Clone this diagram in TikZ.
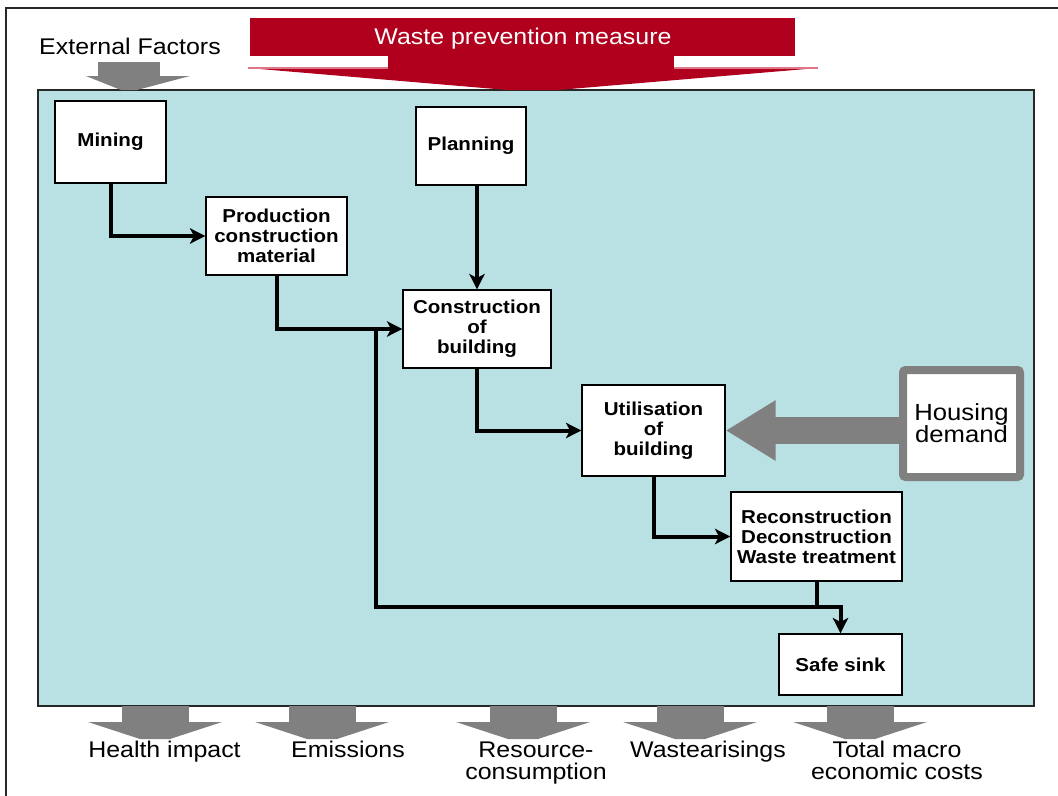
\documentclass[tikz,border=0pt]{standalone}
\usepackage{fontspec}
\setmainfont{Liberation Sans}
\newfontfamily\wfont[FakeStretch=1.1]{Liberation Sans}
\usetikzlibrary{arrows.meta}
\definecolor{panelblue}{RGB}{185,224,227}
\definecolor{wred}{RGB}{176,0,30}
\definecolor{agray}{RGB}{128,128,128}
\definecolor{pinkedge}{RGB}{222,120,136}
\definecolor{frameline}{RGB}{40,40,40}
\begin{document}
\begin{tikzpicture}[x=0.75pt,y=-0.75pt,
  box/.style={draw=black, line width=1pt, fill=white, align=center, inner sep=0pt,
    font=\wfont\bfseries\fontsize{14}{15}\selectfont},
  conn/.style={line width=3pt, -{Stealth[length=11.5pt,width=11.5pt,inset=3pt]}},
  link/.style={line width=3pt},
  lbl/.style={font=\wfont\fontsize{17}{16.5}\selectfont, align=center, inner sep=0pt},
  garrow/.style={fill=agray},
  rarrow/.style={fill=wred}
]
\useasboundingbox (0,0) rectangle (1058,796);
% outer frame
\draw[frameline, line width=1.5pt] (1058,8) -- (6,8) -- (6,796);
% panel
\node[draw=frameline, line width=1pt, fill=panelblue, inner sep=0pt,
  minimum width=747pt, minimum height=462pt] (panel) at (536,398) {};
% waste prevention arrow
\fill[rarrow] (250,18) rectangle (795,56);
\fill[rarrow] (388,55) rectangle (674,69);
\fill[rarrow] (248,68) -- (818,68) -- (558,90) -- (507,90) -- cycle;
\draw[pinkedge, line width=1pt] (248,68) -- (388,68) (674,68) -- (818,68);
\node[lbl, text=white, anchor=base] (wpm) at (523,45) {Waste prevention measure};
% external factors
\node[lbl, anchor=base] (ext) at (130,54) {External Factors};
\fill[garrow] (98,62) rectangle (160,77);
\fill[garrow] (86,76) -- (190,76) -- (137,90) -- (121,90) -- cycle;
% boxes
\node[box, minimum width=83.25pt, minimum height=61.5pt] (mining) at (110.5,142) {Mining};
\node[box, minimum width=82.5pt, minimum height=58.5pt] (plan) at (471,146) {Planning};
\node[box, minimum width=105.75pt, minimum height=58.5pt] (prod) at (276.5,236) {Production\\construction\\material};
\node[box, minimum width=111pt, minimum height=58.5pt] (constr) at (477,329) {Construction\\of\\building};
\node[box, minimum width=107.25pt, minimum height=68.25pt] (util) at (653.5,430.5) {Utilisation\\of\\building};
\node[box, minimum width=128.25pt, minimum height=66.75pt] (recon) at (816.5,536.5) {Reconstruction\\Deconstruction\\Waste treatment};
\node[box, minimum width=92.25pt, minimum height=45.75pt] (sink) at (840.5,664.5) {Safe sink};
\node[draw=agray, line width=6pt, rounded corners=2pt, fill=white, align=center, inner sep=0pt,
  minimum width=87.75pt, minimum height=80.25pt,
  font=\wfont\fontsize{17.5}{16.5}\selectfont] (house) at (961.5,423.5) {Housing\\demand};
% housing arrow
\draw[agray, line width=20.25pt, -{Triangle[length=37.5pt,width=42.75pt]}]
  (util.east -| house.west) -- (util.east);
% connectors
\draw[conn] (mining.south) |- (prod.west);
\draw[conn] (plan.south -| constr.north) -- (constr.north);
\draw[conn] (prod.south) |- (constr.west);
\draw[conn] (constr.south) |- (util.west);
\draw[conn] (util.south) |- (recon.west);
\coordinate (j1) at (376,329);
\coordinate (j2) at (376,607);
\draw[conn] (j1) -- (j2) -| (sink.north);
\draw[link] (recon.south) -- (recon.south |- j2);
% bottom arrows
\foreach \cx in {155,322,523,690,860}{
  \fill[garrow] (\cx-33.5,706) rectangle (\cx+33.5,723);
  \fill[garrow] (\cx-67,722) -- (\cx+67,722) -- (\cx+15,739) -- (\cx-15,739) -- cycle;
}
% bottom labels
\node[lbl, anchor=base] (l1) at (164.5,757) {Health impact};
\node[lbl, anchor=base] (l2) at (348,757) {Emissions};
\node[lbl, anchor=base] (l3) at (536,779) {Resource-\\consumption};
\node[lbl, anchor=base] (l4) at (708,757) {Wastearisings};
\node[lbl, anchor=base] (l5) at (897,779) {Total macro\\economic costs};
\end{tikzpicture}
\end{document}
